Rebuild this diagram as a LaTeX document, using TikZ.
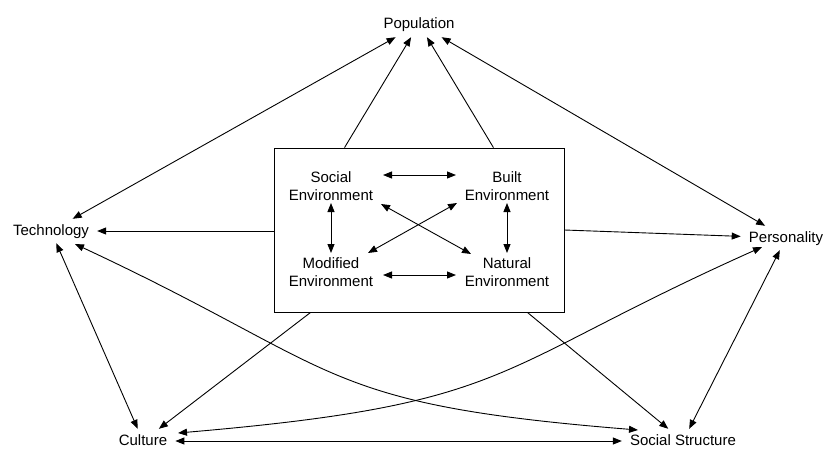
\documentclass[tikz,border=0pt]{standalone}
\usepackage{fontspec}
\setmainfont{Liberation Sans}
\usetikzlibrary{arrows.meta,calc}
\begin{document}
\begin{tikzpicture}[x=1pt,y=-1pt,
  lbl/.style={font=\fontsize{15}{18}\selectfont, text height=11pt, text depth=3pt, inner xsep=8pt, inner ysep=5pt},
  inlbl/.style={font=\fontsize{15}{18}\selectfont, align=center, inner sep=0pt},
  conn/.style={line width=0.9pt, {Triangle[length=9pt,width=7pt]}-{Triangle[length=9pt,width=7pt]}},
  one/.style={line width=0.9pt, -{Triangle[length=9pt,width=7pt]}},
  frame/.style={draw, line width=0.9pt, minimum width=290pt, minimum height=164pt, inner sep=0pt}
]
\useasboundingbox (0,0) rectangle (825,448);
\node[frame] (box) at (419,230) {};
% outer nodes
\node[lbl, inner ysep=6pt] (pop) at (419,24) {Population};
\node[lbl] (tech) at (51,231) {Technology};
\node[lbl] (pers) at (786,238) {Personality};
\node[lbl] (cult) at (143,441) {Culture};
\node[lbl] (ss) at (683,441) {Social Structure};
% inner nodes
\node[inlbl] (soc) at (331,186) {Social\\Environment};
\node[inlbl] (built) at (507,186) {Built\\Environment};
\node[inlbl] (mod) at (331,272) {Modified\\Environment};
\node[inlbl] (nat) at (507,272) {Natural\\Environment};
% outer connectors
\draw[conn] (tech) -- (pop);
\draw[conn] (pers) -- (pop);
\draw[one] ($(box.north west)+(71,0)$) -- (pop);
\draw[one] ($(box.north east)+(-71,0)$) -- (pop);
\draw[one] (box.west |- tech) -- (tech);
\draw[one] (box.east) -- (pers);
\draw[one] ($(box.south west)+(37,0)$) -- (cult);
\draw[one] ($(box.south east)+(-37,0)$) -- (ss);
\draw[conn] (tech) -- (cult);
\draw[conn] (pers) -- (ss);
\draw[conn] (cult) -- (ss);
\draw[conn] ([shift={(24,13)}]tech.center) .. controls (345,370) and (315,404) .. ([shift={(-45,-11)}]ss.center);
\draw[conn] ([shift={(-24,9)}]pers.center) .. controls (487,370) and (517,404) .. ([shift={(35,-8)}]cult.center);
% inner connectors
\draw[conn] ([shift={(52,-11)}]soc.center) -- ([shift={(-51,-11)}]built.center);
\draw[conn] ([shift={(52,3)}]mod.center) -- ([shift={(-51,3)}]nat.center);
\draw[conn] ([shift={(0,17)}]soc.center) -- ([shift={(0,-19)}]mod.center);
\draw[conn] ([shift={(0,17)}]built.center) -- ([shift={(0,-19)}]nat.center);
\draw[conn] ([shift={(50,18)}]soc.center) -- ([shift={(-36,-18)}]nat.center);
\draw[conn] ([shift={(37,-19)}]mod.center) -- ([shift={(-50,17)}]built.center);
\end{tikzpicture}
\end{document}
